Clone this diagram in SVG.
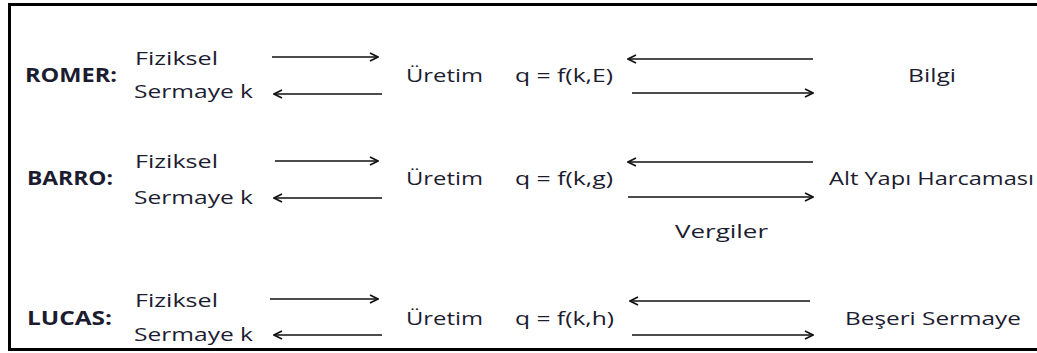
<svg xmlns="http://www.w3.org/2000/svg" width="1037" height="353" viewBox="0 0 1037 353">
<style>
text{font-family:"Open Sans",Lato,"Liberation Sans",sans-serif;font-size:19px;fill:#1c1c30}
.b{font-weight:bold}
.c line{stroke:#111;stroke-width:1.6}
</style>
<defs>
<marker id="ah" markerWidth="10" markerHeight="10" refX="9" refY="5" orient="auto" markerUnits="userSpaceOnUse">
<path d="M1,1 L9,5 L1,9" fill="none" stroke="#111" stroke-width="1.6"/>
</marker>
</defs>
<rect width="1037" height="353" fill="#fff"/>
<path d="M1040,4.5 H9.5 V349.5 H1040" fill="none" stroke="#000" stroke-width="3"/>
<g id="romer">
<text class="b" x="25" y="82" textLength="92" lengthAdjust="spacingAndGlyphs">ROMER:</text>
<text x="135" y="65" textLength="83" lengthAdjust="spacingAndGlyphs">Fiziksel</text>
<text x="134" y="98" textLength="119" lengthAdjust="spacingAndGlyphs">Sermaye k</text>
<text x="406" y="82" textLength="77" lengthAdjust="spacingAndGlyphs">Üretim</text>
<text x="515" y="82" textLength="98" lengthAdjust="spacingAndGlyphs">q = f(k,E)</text>
<text x="908" y="82" textLength="48" lengthAdjust="spacingAndGlyphs">Bilgi</text>
</g>
<g id="barro">
<text class="b" x="27" y="185" textLength="86" lengthAdjust="spacingAndGlyphs">BARRO:</text>
<text x="135" y="168" textLength="83" lengthAdjust="spacingAndGlyphs">Fiziksel</text>
<text x="134" y="204" textLength="119" lengthAdjust="spacingAndGlyphs">Sermaye k</text>
<text x="406" y="185" textLength="77" lengthAdjust="spacingAndGlyphs">Üretim</text>
<text x="515" y="185" textLength="98" lengthAdjust="spacingAndGlyphs">q = f(k,g)</text>
<text x="829" y="185" textLength="205" lengthAdjust="spacingAndGlyphs">Alt Yapı Harcaması</text>
<text x="675" y="238" textLength="93" lengthAdjust="spacingAndGlyphs">Vergiler</text>
</g>
<g id="lucas">
<text class="b" x="27" y="325" textLength="85" lengthAdjust="spacingAndGlyphs">LUCAS:</text>
<text x="135" y="307" textLength="83" lengthAdjust="spacingAndGlyphs">Fiziksel</text>
<text x="134" y="341" textLength="119" lengthAdjust="spacingAndGlyphs">Sermaye k</text>
<text x="406" y="325" textLength="77" lengthAdjust="spacingAndGlyphs">Üretim</text>
<text x="515" y="325" textLength="99" lengthAdjust="spacingAndGlyphs">q = f(k,h)</text>
<text x="845" y="325" textLength="176" lengthAdjust="spacingAndGlyphs">Beşeri Sermaye</text>
</g>
<g id="connectors" class="c">
<line x1="272" y1="57" x2="378" y2="57" marker-end="url(#ah)"/>
<line x1="382" y1="94" x2="274" y2="94" marker-end="url(#ah)"/>
<line x1="813" y1="59" x2="628" y2="59" marker-end="url(#ah)"/>
<line x1="632" y1="93" x2="813" y2="93" marker-end="url(#ah)"/>
<line x1="275" y1="161" x2="378" y2="161" marker-end="url(#ah)"/>
<line x1="382" y1="198" x2="274" y2="198" marker-end="url(#ah)"/>
<line x1="813" y1="162" x2="628" y2="162" marker-end="url(#ah)"/>
<line x1="628" y1="197" x2="813" y2="197" marker-end="url(#ah)"/>
<line x1="270" y1="299" x2="378" y2="299" marker-end="url(#ah)"/>
<line x1="382" y1="335" x2="274" y2="335" marker-end="url(#ah)"/>
<line x1="810" y1="301" x2="630" y2="301" marker-end="url(#ah)"/>
<line x1="632" y1="335" x2="813" y2="335" marker-end="url(#ah)"/>
</g>
</svg>
